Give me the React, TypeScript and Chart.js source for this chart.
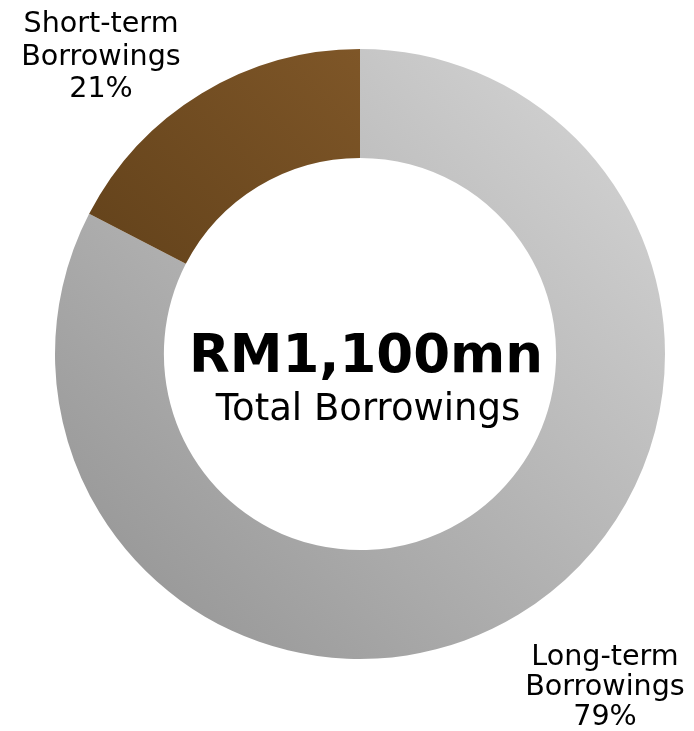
import React, { useEffect, useRef } from "react";
import { Chart, registerables } from "chart.js";

Chart.register(...registerables);

const categories = ["Long-term Borrowings", "Short-term Borrowings"];
const shares = [82.6, 17.4];
const percentLabels = ["79%", "21%"];
const centerValue = "RM1,100mn";
const centerCaption = "Total Borrowings";

const FONT = "'DejaVu Sans', Verdana, sans-serif";

export default function App() {
  const ref = useRef<HTMLCanvasElement | null>(null);

  useEffect(() => {
    document.body.style.margin = "0";
    const canvas = ref.current;
    if (!canvas) return;

    const gradient = (ctx: any, area: any, light: string, dark: string) => {
      const g = ctx.createLinearGradient(area.right, area.top, area.left, area.bottom);
      g.addColorStop(0, light);
      g.addColorStop(1, dark);
      return g;
    };

    const textPlugin = {
      id: "texts",
      afterDraw(chart: any) {
        const ctx = chart.ctx;
        const meta = chart.getDatasetMeta(0);
        const arc = meta.data[0];
        const cx = arc.x;
        const cy = arc.y;
        ctx.save();
        ctx.fillStyle = "#000";
        ctx.textAlign = "center";
        ctx.textBaseline = "alphabetic";
        ctx.font = `bold 53px ${FONT}`;
        ctx.fillText(centerValue, cx + 6, cy + 18);
        ctx.font = `37px ${FONT}`;
        ctx.fillText(centerCaption, cx + 8, cy + 66);

        ctx.font = `28.6px ${FONT}`;
        const shortParts = categories[1].split(" ");
        const tl = [shortParts[0], shortParts[1], percentLabels[1]];
        tl.forEach((t, i) => ctx.fillText(t, 101, 32 + i * 32.5));
        const longParts = categories[0].split(" ");
        const br = [longParts[0], longParts[1], percentLabels[0]];
        br.forEach((t, i) => ctx.fillText(t, 605, 665 + i * 30));
        ctx.restore();
      },
    };

    const chart = new Chart(canvas, {
      type: "doughnut",
      data: {
        labels: categories,
        datasets: [
          {
            data: shares,
            backgroundColor: (c: any) => {
              const area = c.chart.chartArea;
              if (!area) return c.dataIndex === 0 ? "#bbbbbb" : "#704a20";
              return c.dataIndex === 0
                ? gradient(c.chart.ctx, area, "#d8d8d8", "#909090")
                : gradient(c.chart.ctx, area, "#906330", "#4a300f");
            },
            borderWidth: 0,
          },
        ],
      },
      options: {
        responsive: false,
        animation: false,
        cutout: "64.3%",
        layout: { padding: { left: 55, right: 29, top: 49, bottom: 72 } },
        plugins: {
          legend: { display: false },
          tooltip: { enabled: false },
        },
      },
      plugins: [textPlugin],
    });
    return () => chart.destroy();
  }, []);

  return <canvas ref={ref} width={694} height={731} style={{ display: "block" }} />;
}
